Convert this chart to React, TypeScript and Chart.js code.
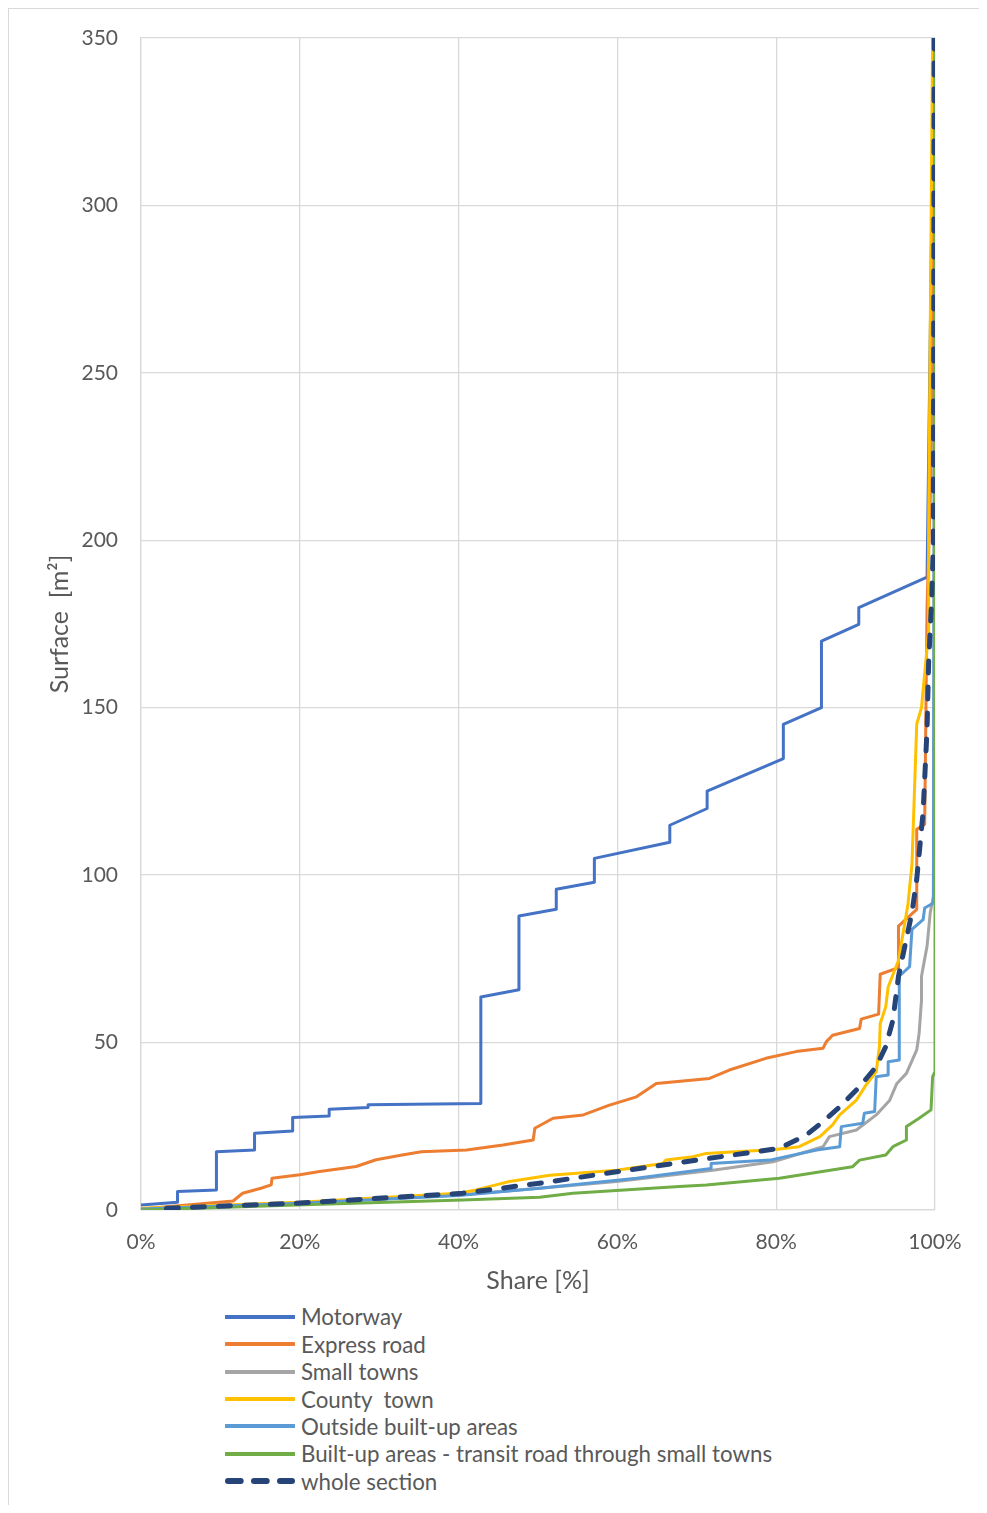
import React, { useEffect, useRef } from "react";
import { Chart, registerables } from "chart.js";

Chart.register(...registerables);

// ---------- data ----------
const seriesNames = [
  "Motorway",
  "Express road",
  "Small towns",
  "County  town",
  "Outside built-up areas",
  "Built-up areas - transit road through small towns",
  "whole section",
];
const seriesColors = ["#4472C4", "#ED7D31", "#A5A5A5", "#FFC000", "#5B9BD5", "#70AD47", "#264478"];

const motorwayShare = [0, 4.6, 4.6, 9.5, 9.5, 14.3, 14.3, 19.1, 19.1, 23.7, 23.7, 28.6, 28.6, 42.8, 42.8, 47.6, 47.6, 52.3, 52.3, 57.1, 57.1, 66.6, 66.6, 71.3, 71.3, 80.9, 80.9, 85.7, 85.7, 90.4, 90.4, 99.0, 99.9];
const motorwaySurface = [1.5, 2.3, 5.5, 6.0, 17.4, 17.9, 22.9, 23.6, 27.6, 28.1, 30.1, 30.6, 31.4, 31.8, 63.6, 65.8, 87.8, 89.8, 95.8, 97.9, 105, 109.8, 114.9, 119.9, 125.1, 134.8, 145, 150, 169.9, 174.9, 179.9, 189, 350];

const expressShare = [0, 11.6, 12.8, 15.1, 16.4, 16.5, 20, 22.5, 27.1, 29.6, 32.9, 35.3, 41, 45.6, 49.4, 49.6, 51.9, 55.7, 59, 62.4, 64.9, 71.6, 74.1, 78.7, 82.5, 85.9, 86.3, 87.1, 90.5, 90.7, 92.9, 93.1, 95.4, 95.4, 97.7, 97.7, 98.7, 99.0, 99.5, 99.9];
const expressSurface = [0.3, 2.7, 5, 6.5, 7.5, 9.5, 10.5, 11.5, 13, 15, 16.4, 17.4, 17.9, 19.4, 20.9, 24.4, 27.4, 28.4, 31.3, 33.8, 37.8, 39.3, 41.8, 45.3, 47.3, 48.3, 50.2, 52.2, 54.2, 57, 58.5, 70.4, 72.4, 84.8, 89.8, 113.7, 115.2, 180.4, 220, 350];

const smallTownsShare = [0, 20, 40, 50.2, 59.9, 72, 79.6, 85.9, 86.7, 90.1, 92.6, 94.3, 95.2, 96.4, 97.7, 98.0, 98.3, 98.3, 99.0, 99.4, 99.8, 100];
const smallTownsSurface = [0.3, 2, 4.5, 6.5, 8.5, 11.9, 14.4, 18.9, 21.9, 23.9, 28.4, 32.8, 37.8, 40.8, 47.8, 52.7, 62.7, 69.8, 78.8, 88.8, 93.7, 350];

const countyShare = [0, 20, 40, 42.2, 44.7, 46.4, 51.5, 59.9, 65.7, 66.1, 69.5, 71.2, 75.4, 79.6, 82.9, 85.5, 87.1, 88, 90.1, 91.3, 92.6, 93.0, 93.1, 93.8, 94.1, 95.4, 96.6, 97.1, 97.7, 98.3, 99.2, 99.2, 99.7];
const countySurface = [0.5, 2.3, 5, 6, 7.5, 8.5, 10.4, 11.9, 13.9, 14.9, 15.9, 16.9, 17.5, 18.0, 18.9, 21.9, 25.4, 28.4, 32.8, 37.3, 41.3, 48.8, 55.7, 60.7, 66.6, 74.5, 91.4, 103.3, 145.1, 150, 172.9, 202.9, 350];

const outsideShare = [0, 20, 40, 50.2, 62.4, 71.8, 71.8, 79.2, 85.1, 88.0, 88.2, 90.9, 91.1, 92.4, 92.6, 94.1, 94.1, 95.5, 95.5, 96.8, 97.1, 98.5, 98.7, 99.8, 100];
const outsideSurface = [0.3, 2, 4.3, 6.5, 9.5, 12.4, 13.9, 14.9, 17.9, 18.9, 24.9, 25.9, 28.9, 29.4, 39.8, 40.3, 44.3, 44.8, 69.8, 72.7, 83.8, 86.7, 90.2, 91.7, 350];

const builtUpShare = [0, 19.5, 40.5, 50.2, 54.4, 67.8, 71.2, 80.4, 89.6, 90.5, 93.8, 94.7, 96.4, 96.4, 98.0, 99.5, 99.7, 100, 100];
const builtUpSurface = [0, 1.5, 3, 3.8, 5, 7, 7.5, 9.5, 12.9, 14.9, 16.4, 18.9, 20.9, 24.9, 27.4, 29.9, 39.8, 41.3, 350];

const wholeShare = [3.2, 19.5, 40.5, 50.2, 59.9, 70, 80.4, 83.8, 85.9, 88, 90.5, 92.6, 93.8, 94.7, 95.4, 96.2, 97.1, 97.7, 98.5, 99.0, 99.2, 99.6, 99.8, 99.9];
const wholeSurface = [0.5, 2, 5, 8, 11.4, 14.9, 18.4, 22.4, 26.4, 30.8, 36.8, 42.8, 48.8, 56.7, 69.8, 78.8, 88.8, 98.8, 118.7, 143.6, 163.5, 183.4, 200, 350];

const xTicks = [0, 20, 40, 60, 80, 100];
const yTicks = [0, 50, 100, 150, 200, 250, 300, 350];
const xTitle = "Share [%]";
const yTitle = "Surface  [m²]";

const seriesShares = [motorwayShare, expressShare, smallTownsShare, countyShare, outsideShare, builtUpShare, wholeShare];
const seriesSurfaces = [motorwaySurface, expressSurface, smallTownsSurface, countySurface, outsideSurface, builtUpSurface, wholeSurface];

const FONT = "Lato, 'Open Sans', sans-serif";
const TEXT = "#595959";
const GRID = "#D9D9D9";

const CW = 978;
const CH = 1290;

export default function App() {
  const ref = useRef<HTMLCanvasElement | null>(null);

  useEffect(() => {
    document.documentElement.style.overflow = "hidden";
    const canvas = ref.current;
    if (!canvas) return;
    const datasets = seriesNames.map((name, i) => {
      const dashed = i === seriesNames.length - 1;
      return {
        label: name,
        data: seriesShares[i].map((x, k) => ({ x, y: seriesSurfaces[i][k] })),
        borderColor: seriesColors[i],
        backgroundColor: seriesColors[i],
        borderWidth: dashed ? 5 : 3,
        borderDash: dashed ? [12, 14] : [],
        borderCapStyle: dashed ? "round" : "butt",
        borderJoinStyle: "round",
        pointRadius: 0,
        tension: 0,
        fill: false,
        order: seriesNames.length - 1 - i,
      };
    });
    const chart = new Chart(canvas, {
      type: "line",
      data: { datasets: datasets as any },
      options: {
        animation: false,
        responsive: false,
        devicePixelRatio: 1,
        layout: { autoPadding: false, padding: { left: 0, right: CW - 926, top: 29, bottom: 0 } },
        plugins: { legend: { display: false }, tooltip: { enabled: false } },
        scales: {
          x: {
            type: "linear",
            min: 0,
            max: 100,
            afterBuildTicks: (s: any) => {
              s.ticks = xTicks.map((v) => ({ value: v }));
            },
            afterFit: (s: any) => {
              s.height = CH - 1201;
              s.paddingLeft = 0;
              s.paddingRight = 0;
            },
            ticks: {
              color: TEXT,
              font: { family: FONT, size: 21 },
              padding: 20,
              maxRotation: 0,
              callback: (v: any) => v + "%",
            },
            grid: { color: GRID, lineWidth: 1.3, drawTicks: false },
            border: { color: GRID, width: 1.3 },
            title: {
              display: true,
              text: xTitle,
              color: TEXT,
              font: { family: FONT, size: 25 },
              padding: { top: 0, bottom: 3 },
            },
          },
          y: {
            type: "linear",
            min: 0,
            max: 350,
            afterBuildTicks: (s: any) => {
              s.ticks = yTicks.map((v) => ({ value: v }));
            },
            afterFit: (s: any) => {
              s.width = 132;
              s.paddingTop = 0;
              s.paddingBottom = 0;
            },
            ticks: {
              color: TEXT,
              font: { family: FONT, size: 21 },
              padding: 23,
            },
            grid: { color: GRID, lineWidth: 1.3, drawTicks: false },
            border: { color: GRID, width: 1.3 },
            title: {
              display: true,
              text: yTitle,
              color: TEXT,
              font: { family: FONT, size: 25 },
              padding: { top: 36, bottom: 0 },
            },
          },
        },
      } as any,
    });
    return () => chart.destroy();
  }, []);

  const rowH = 27.35;
  return (
    <div
      style={{
        position: "relative",
        width: 979,
        height: 1497,
        boxSizing: "border-box",
        borderLeft: "1px solid #D9D9D9",
        borderTop: "1px solid #D9D9D9",
        background: "#fff",
      }}
    >
      <canvas
        ref={ref}
        width={CW}
        height={CH}
        style={{ position: "absolute", left: 0, top: 0, width: CW, height: CH, display: "block" }}
      />
      {seriesNames.map((name, i) => {
        const dashed = i === seriesNames.length - 1;
        return (
          <div
            key={name}
            style={{
              position: "absolute",
              left: 216,
              top: 1308 + rowH * i - rowH / 2,
              height: rowH,
              display: "flex",
              alignItems: "center",
              whiteSpace: "pre",
              fontFamily: FONT,
              fontSize: 22.3,
              color: TEXT,
            }}
          >
            <svg width={70} height={10} style={{ marginRight: 6, flex: "none" }}>
              {dashed ? (
                <line x1={3} y1={5} x2={67} y2={5} stroke={seriesColors[i]} strokeWidth={6} strokeLinecap="round" strokeDasharray="12.7 13.3" />
              ) : (
                <line x1={1} y1={5} x2={69} y2={5} stroke={seriesColors[i]} strokeWidth={4} strokeLinecap="round" />
              )}
            </svg>
            <span>{name}</span>
          </div>
        );
      })}
    </div>
  );
}
